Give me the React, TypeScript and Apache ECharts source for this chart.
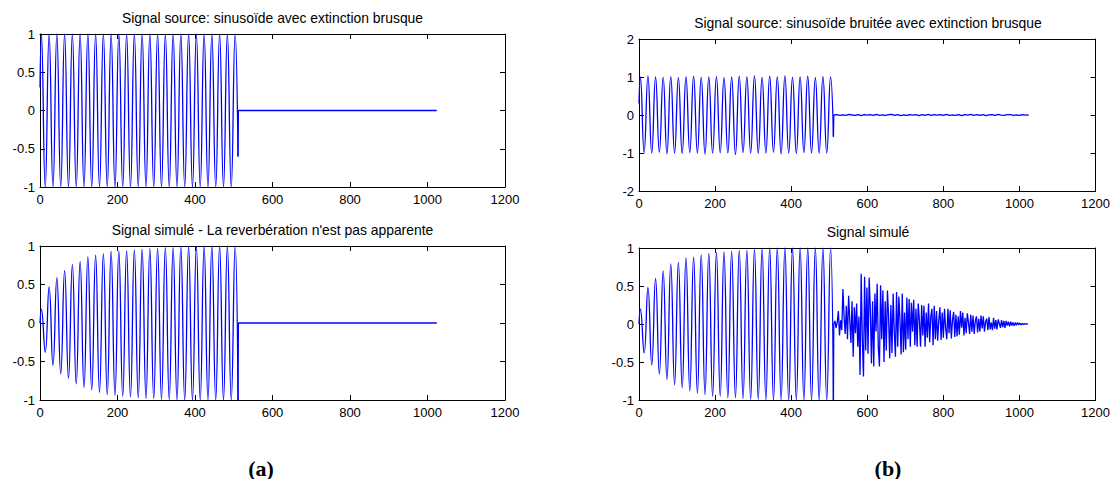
import React, { useEffect, useRef } from "react";
import * as echarts from "echarts";

// ---- Data ----
// Sample indices of the successive extrema (peaks / troughs) of the 512-sample sinusoid
const extremaSamples = [
  3.5, 13.5, 23.5, 33.5, 43.5, 53.5, 63.5, 73.5, 83.5, 93.5,
  103.5, 113.5, 123.5, 133.5, 143.5, 153.5, 163.5, 173.5, 183.5, 193.5,
  203.5, 213.5, 223.5, 233.5, 243.5, 253.5, 263.5, 273.5, 283.5, 293.5,
  303.5, 313.5, 323.5, 333.5, 343.5, 353.5, 363.5, 373.5, 383.5, 393.5,
  403.5, 413.5, 423.5, 433.5, 443.5, 453.5, 463.5, 473.5, 483.5, 493.5,
  503.5,
];

// (a) top: clean source sinusoid
const srcExtrema = [
  1, -1, 1, -1, 1, -1, 1, -1, 1, -1,
  1, -1, 1, -1, 1, -1, 1, -1, 1, -1,
  1, -1, 1, -1, 1, -1, 1, -1, 1, -1,
  1, -1, 1, -1, 1, -1, 1, -1, 1, -1,
  1, -1, 1, -1, 1, -1, 1, -1, 1, -1,
  1,
];
const srcStart = 0.3;
const srcEnd = -0.6;
const srcTail = [0, 0]; // flat after extinction (512 → 1024)

// (a) bottom: simulated signal (growing envelope)
const simExtrema = [
  0.18, -0.38, 0.47, -0.55, 0.59, -0.66, 0.68, -0.72, 0.76, -0.79,
  0.8, -0.84, 0.86, -0.87, 0.88, -0.9, 0.9, -0.93, 0.93, -0.94,
  0.935, -0.95, 0.94, -0.96, 0.95, -0.97, 0.96, -0.98, 0.965, -0.98,
  0.97, -0.99, 0.98, -0.995, 0.98, -1, 0.99, -1, 0.99, -1,
  0.995, -1, 1, -1, 1, -1, 1, -1, 1, -1,
  1,
];
const simStart = 0;
const simEnd = -1;
const simTail = [0, 0];

// (b) top: noisy source sinusoid
const noisySrcExtrema = [
  1.0, -0.99, 1.03, -1.0, 1.0, -0.98, 0.99, -1.02, 1.01, -1.0,
  0.98, -1.01, 1.0, -0.99, 1.02, -1.0, 0.99, -1.03, 1.0, -1.0,
  1.01, -0.99, 0.98, -1.0, 1.0, -1.04, 1.02, -0.99, 1.0, -1.0,
  1.03, -1.01, 0.99, -1.0, 1.02, -0.98, 1.0, -1.02, 1.03, -1.0,
  0.99, -1.01, 1.0, -0.99, 1.02, -1.0, 0.98, -1.0, 1.01, -1.0,
  1.0,
];
const noisySrcStart = 0.3;
const noisySrcEnd = -0.57;
// residual noise after extinction, one value every 8 samples from 512 to 1024
const noisySrcTail = [
  0, 0.012, -0.008, 0.004, -0.012, 0.015, 0, -0.008, 0.008, -0.015, 0.012, -0.004, 0.008, -0.012, 0.015, -0.008,
  0.004, -0.012, 0.008, 0.015, -0.008, 0.012, -0.015, 0.004, -0.008, 0.012, -0.004, 0.008, -0.015, 0.012, -0.008, 0.015,
  -0.012, 0.008, -0.004, 0.012, -0.008, 0.015, -0.012, 0.004, -0.008, 0.012, -0.015, 0.008, -0.004, 0.015, -0.008, 0.012,
  -0.012, 0.008, -0.015, 0.004, 0.012, -0.008, 0.015, -0.004, -0.012, 0.008, 0.012, -0.008, 0.004, -0.012, 0.008, -0.004, 0,
];

// (b) bottom: simulated noisy signal
const noisySimExtrema = [
  0.2, -0.38, 0.48, -0.54, 0.6, -0.66, 0.7, -0.73, 0.79, -0.8,
  0.81, -0.84, 0.87, -0.88, 0.88, -0.91, 0.91, -0.93, 0.93, -0.95,
  0.94, -0.95, 0.95, -0.97, 0.96, -0.97, 0.97, -0.98, 0.97, -0.99,
  0.98, -0.99, 0.99, -1, 1, -1, 1, -1, 1, -1,
  1, -1, 1, -1, 1, -1, 1, -1, 1, -1,
  1,
];
const noisySimStart = 0;
const noisySimEnd = -1;
// reverberation after extinction, one value every 3 samples from 512 to 1022
const reverbTail = [
  0, 0.04, -0.05, 0.02, 0.17, -0.15, 0.05, -0.08, 0.46, 0.1,
  -0.13, 0.24, -0.2, 0.37, 0.05, -0.25, 0.3, -0.43, 0.22, -0.12,
  0.27, -0.3, 0.1, -0.67, 0.66, -0.2, -0.69, 0.62, -0.35, 0.48,
  -0.39, 0.61, 0.2, -0.52, 0.3, -0.56, 0.4, -0.1, 0.53, -0.3,
  -0.56, 0.51, -0.2, 0.44, -0.5, 0.3, -0.35, 0.44, 0.1, -0.45,
  0.25, -0.38, 0.4, -0.1, -0.43, 0.42, -0.3, 0.36, 0.05, -0.4,
  0.4, -0.37, 0.15, -0.34, 0.35, -0.2, 0.33, -0.3, 0.28, -0.1,
  0.32, -0.28, 0.2, -0.3, 0.27, 0.05, -0.3, 0.25, -0.15, 0.24,
  -0.3, 0.15, -0.18, 0.27, -0.24, 0.1, 0.2, -0.28, 0.24, -0.2,
  0.17, -0.22, 0.05, 0.22, -0.21, 0.15, -0.18, 0.2, -0.05, -0.2,
  0.2, -0.12, 0.18, -0.19, 0.05, 0.16, -0.17, 0.12, -0.16, 0.1,
  -0.14, 0.17, -0.05, 0.15, -0.15, 0.08, -0.12, 0.14, 0.02, -0.13,
  0.12, -0.1, 0.11, -0.13, 0.04, 0.1, -0.11, 0.07, -0.1, 0.11,
  -0.06, 0.1, -0.1, 0.03, 0.07, -0.08, 0.09, -0.07, 0.02, -0.08,
  0.08, -0.06, 0.05, -0.07, 0.06, 0.01, -0.05, 0.05, -0.04, 0.04,
  -0.05, 0.04, -0.02, 0.03, -0.03, 0.03, -0.02, 0.02, -0.025, 0.02,
  -0.015, 0.02, -0.01, 0.012, -0.01, 0.008, -0.006, 0.005, -0.003, 0.002, 0,
];

const titles = [
  "Signal source: sinusoïde avec extinction brusque",
  "Signal simulé - La reverbération n'est pas apparente",
  "Signal source: sinusoïde bruitée avec extinction brusque",
  "Signal simulé",
];
const panelLabels = ["(a)", "(b)"];
const xTicks = { min: 0, max: 1200, interval: 200 };
const yRanges = [
  { min: -1, max: 1, interval: 0.5 },
  { min: -1, max: 1, interval: 0.5 },
  { min: -2, max: 2, interval: 1 },
  { min: -1, max: 1, interval: 0.5 },
];

// ---- Layout ----
const grids = [
  { left: 40, top: 34, width: 465, height: 153 },
  { left: 40, top: 246, width: 465, height: 154 },
  { left: 639, top: 39, width: 458, height: 152 },
  { left: 639, top: 248, width: 458, height: 152 },
];
const FONT = "'Liberation Sans', Arial, Helvetica, sans-serif";

function oscData(start: number, extrema: number[], end: number): number[][] {
  const d: number[][] = [[0, start]];
  extrema.forEach((v, i) => d.push([extremaSamples[i], v]));
  d.push([511, end]);
  return d;
}
function tailData(end: number, tail: number[], step: number): number[][] {
  const d: number[][] = [[511, end]];
  tail.forEach((v, i) => d.push([512 + i * step, v]));
  return d;
}

export default function App() {
  const ref = useRef<HTMLDivElement>(null);
  useEffect(() => {
    if (!ref.current) return;
    const chart = echarts.init(ref.current, undefined, { renderer: "svg" });

    const panels = [
      { osc: oscData(srcStart, srcExtrema, srcEnd), tail: tailData(srcEnd, srcTail, 512) },
      { osc: oscData(simStart, simExtrema, simEnd), tail: tailData(simEnd, simTail, 512) },
      { osc: oscData(noisySrcStart, noisySrcExtrema, noisySrcEnd), tail: tailData(noisySrcEnd, noisySrcTail, 8) },
      { osc: oscData(noisySimStart, noisySimExtrema, noisySimEnd), tail: tailData(noisySimEnd, reverbTail, 3) },
    ];

    const xAxes: any[] = [];
    const yAxes: any[] = [];
    grids.forEach((g, gi) => {
      const axisLine = { show: true, onZero: false, lineStyle: { color: "#000", width: 1 } };
      const axisTick = { show: true, inside: true, length: 5, lineStyle: { color: "#000", width: 1 } };
      const label = {
        show: true, color: "#000", fontSize: 13, fontFamily: FONT,
        formatter: (v: number) => String(v),
      };
      xAxes.push({
        type: "value", gridIndex: gi, position: "bottom", ...xTicks,
        axisLine, axisTick, axisLabel: { ...label, margin: 6 }, splitLine: { show: false },
      });
      xAxes.push({
        type: "value", gridIndex: gi, position: "top", ...xTicks,
        axisLine, axisTick, axisLabel: { show: false }, splitLine: { show: false },
      });
      yAxes.push({
        type: "value", gridIndex: gi, position: "left", ...yRanges[gi],
        axisLine, axisTick, axisLabel: { ...label, margin: 5 }, splitLine: { show: false },
      });
      yAxes.push({
        type: "value", gridIndex: gi, position: "right", ...yRanges[gi],
        axisLine, axisTick, axisLabel: { show: false }, splitLine: { show: false },
      });
    });

    const titleEls = grids.map((g, gi) => ({
      type: "text",
      x: g.left + g.width / 2,
      y: g.top - 16,
      style: {
        text: titles[gi],
        align: "center",
        verticalAlign: "middle",
        fontSize: 13.9,
        fontFamily: FONT,
        fill: "#000",
      },
    }));
    const labelEls = panelLabels.map((t, i) => ({
      type: "text",
      x: i === 0 ? 261 : 888,
      y: 468,
      style: {
        text: t,
        align: "center",
        verticalAlign: "middle",
        fontSize: 22,
        fontWeight: "bold",
        fontFamily: "'Liberation Serif', 'Times New Roman', serif",
        fill: "#000",
      },
    }));

    const series: any[] = [];
    panels.forEach((p, gi) => {
      const common = {
        type: "line",
        xAxisIndex: gi * 2,
        yAxisIndex: gi * 2,
        symbol: "none",
        showSymbol: false,
        silent: true,
        lineStyle: { color: "#0000ff", width: 1.3 },
      };
      series.push({ ...common, data: p.osc, smooth: 0.5 });
      series.push({ ...common, data: p.tail, smooth: false });
    });

    chart.setOption({
      animation: false,
      backgroundColor: "#fff",
      grid: grids.map((g) => ({ ...g, containLabel: false })),
      xAxis: xAxes,
      yAxis: yAxes,
      series,
      graphic: [...titleEls, ...labelEls],
    });

    return () => chart.dispose();
  }, []);

  return (
    <div
      ref={ref}
      style={{ position: "absolute", left: 0, top: 0, width: 1113, height: 479 }}
    />
  );
}
